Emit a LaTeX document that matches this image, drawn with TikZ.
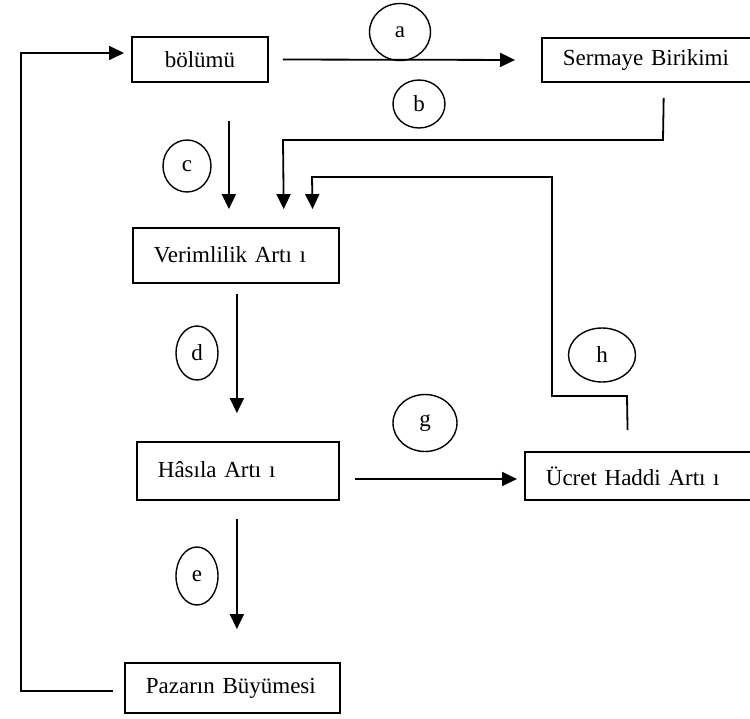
\documentclass[tikz,border=0pt]{standalone}
\usepackage{fontspec}
\setmainfont{Liberation Serif}
\usetikzlibrary{arrows.meta,shapes.geometric}
\tikzset{
  box/.style={draw, line width=0.9pt, anchor=west, inner xsep=10.5pt, inner ysep=0pt, align=left,
    font=\fontsize{11.5pt}{13pt}\selectfont},
  lab/.style={draw, ellipse, line width=0.7pt, inner sep=0pt, font=\fontsize{11.5pt}{13pt}\selectfont},
  arr/.style={line width=0.9pt, -{Triangle[length=7.5pt,width=7pt]}},
  conn/.style={line width=0.9pt}
}
\begin{document}
\begin{tikzpicture}[x=0.5pt,y=-0.5pt]
\useasboundingbox (0,0) rectangle (750,718);
% boxes
\node[box, minimum width=68pt, minimum height=22.5pt, align=center, inner xsep=0pt] (bol) at (131,59.5) {bölümü};
\node[box, text width=91pt, minimum height=22pt] (ser) at (541,60) {Sermaye Birikimi};
\node[box, text width=82pt, minimum height=27.5pt] (ver) at (132,255.5) {\raisebox{1pt}{Verimlilik Artı ı}};
\node[box, text width=80pt, minimum height=29pt] (has) at (136,471) {\raisebox{2pt}{Hâsıla Artı ı}};
\node[box, text width=99.5pt, minimum height=24pt] (ucr) at (524,476) {\raisebox{-1.5pt}{Ücret Haddi Artı ı}};
\node[box, text width=86.5pt, minimum height=25pt] (paz) at (124,688) {\raisebox{-0.5pt}{Pazarın Büyümesi}};
% labels
\node[lab, minimum width=30.5pt, minimum height=28.5pt] (la) at (400,32) {a};
\node[lab, minimum width=26pt, minimum height=24pt] (lb) at (419,104) {b};
\node[lab, minimum width=24pt, minimum height=26pt] (lc) at (187,166) {c};
\node[lab, minimum width=21pt, minimum height=27pt] (ld) at (197,353) {d};
\node[lab, minimum width=21pt, minimum height=29pt] (le) at (197,576) {e};
\node[lab, minimum width=32pt, minimum height=28.5pt] (lg) at (425,423) {g};
\node[lab, minimum width=33.5pt, minimum height=27pt] (lh) at (602,355) {h};
% connectors
\draw[arr, shorten <=7pt, shorten >=13pt] (bol.east) -- (ser.west);
\draw[arr, shorten <=19pt, shorten >=9pt] ([xshift=14.5pt]bol.south) -- ([xshift=-3.5pt]ver.north);
\draw[arr, shorten <=7.5pt, shorten >=9pt] ([xshift=5pt]ser.south) -- (663,140) -- (283,140) -- ([xshift=24pt]ver.north);
\draw[arr, shorten <=10.5pt, shorten >=9pt] ([xshift=-8.75pt]ucr.north) -- (627,396) -- (552,396) -- (552,177) -- (312,177) -- ([xshift=38.5pt]ver.north);
\draw[arr, shorten <=5pt, shorten >=14pt] ([xshift=0.5pt]ver.south) -- ([xshift=-0.5pt]has.north);
\draw[arr, shorten <=7.5pt, shorten >=3.5pt] ([yshift=-4pt]has.east) -- ([yshift=-1.5pt]ucr.west);
\draw[arr, shorten <=9pt, shorten >=16.5pt] ([xshift=-0.5pt]has.south) -- ([xshift=2.25pt]paz.north);
\draw[arr, shorten <=5.5pt, shorten >=3.5pt] ([yshift=-1.5pt]paz.west) -- (21,691) -- (21,53) -- ([yshift=3.25pt]bol.west);
\end{tikzpicture}
\end{document}
